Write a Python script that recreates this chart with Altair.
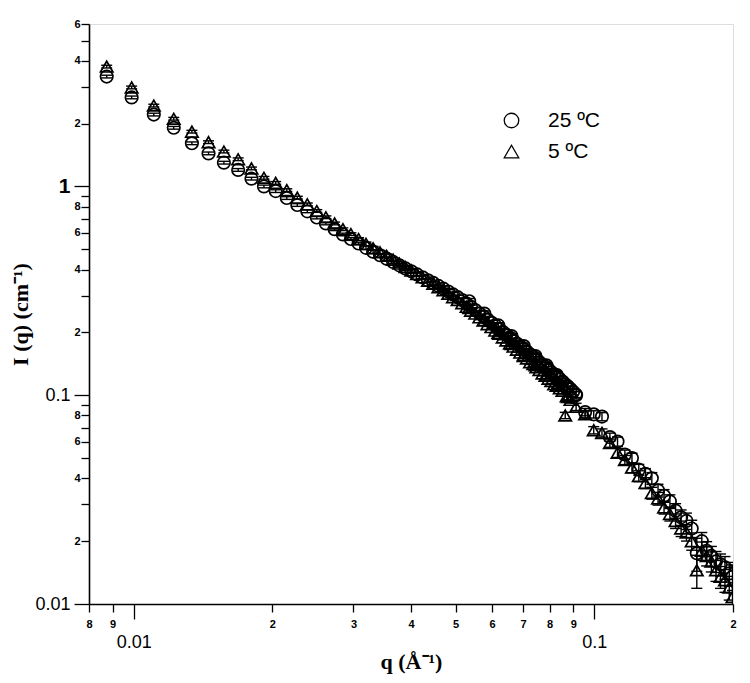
import altair as alt
import pandas as pd

# ---------------- data ----------------
series_names = ["25 ºC", "5 ºC"]

# low-q configuration (q in 1/Å)
q_low = [0.00874, 0.00990, 0.01106, 0.01222, 0.01338, 0.01454, 0.01570, 0.01686, 0.01802, 0.01918,
         0.02034, 0.02150, 0.02266, 0.02382, 0.02498, 0.02614, 0.02730, 0.02846, 0.02962, 0.03078,
         0.03194, 0.03310, 0.03426, 0.03542, 0.03658, 0.03774, 0.03890, 0.04006, 0.04122, 0.04238,
         0.04354, 0.04470, 0.04586, 0.04702, 0.04818, 0.04934, 0.05050, 0.05166, 0.05282, 0.05398,
         0.05514, 0.05630, 0.05746, 0.05862, 0.05978, 0.06094, 0.06210, 0.06326, 0.06442, 0.06558,
         0.06674, 0.06790, 0.06906, 0.07022, 0.07138, 0.07254, 0.07370, 0.07486, 0.07602, 0.07718,
         0.07834, 0.07950, 0.08066, 0.08182, 0.08298, 0.08414, 0.08530, 0.08646, 0.08762, 0.08878,
         0.08994, 0.09110]

i25_low = [3.36, 2.67, 2.21, 1.91, 1.61, 1.44, 1.30, 1.20, 1.09, 1.00,
           0.95, 0.88, 0.815, 0.76, 0.71, 0.665, 0.624, 0.589, 0.56, 0.533,
           0.508, 0.487, 0.468, 0.451, 0.435, 0.419, 0.405, 0.392, 0.379, 0.367,
           0.355, 0.345, 0.334, 0.324, 0.314, 0.304, 0.295, 0.286, 0.275, 0.265,
           0.256, 0.247, 0.239, 0.231, 0.223, 0.216, 0.208, 0.2015, 0.195, 0.189,
           0.183, 0.177, 0.172, 0.167, 0.162, 0.157, 0.153, 0.1485, 0.144, 0.140,
           0.1366, 0.133, 0.129, 0.126, 0.123, 0.1196, 0.1164, 0.113, 0.110, 0.107,
           0.104, 0.101]

i5_low = [3.75, 2.98, 2.44, 2.11, 1.83, 1.63, 1.47, 1.35, 1.22, 1.10,
          1.04, 0.96, 0.884, 0.821, 0.763, 0.712, 0.665, 0.624, 0.591, 0.560,
          0.531, 0.506, 0.484, 0.465, 0.446, 0.427, 0.411, 0.396, 0.381, 0.367,
          0.353, 0.342, 0.329, 0.318, 0.306, 0.295, 0.286, 0.276, 0.265, 0.254,
          0.246, 0.236, 0.228, 0.219, 0.212, 0.204, 0.197, 0.189, 0.183, 0.177,
          0.171, 0.165, 0.160, 0.154, 0.150, 0.144, 0.141, 0.136, 0.132, 0.127,
          0.124, 0.120, 0.117, 0.113, 0.111, 0.108, 0.105, 0.080, 0.098, 0.095]

err_low = [0.015, 0.015, 0.015, 0.015, 0.015, 0.015, 0.015, 0.015, 0.015, 0.015,
           0.015, 0.015, 0.015, 0.015, 0.015, 0.015, 0.015, 0.015, 0.015, 0.015,
           0.02, 0.02, 0.02, 0.02, 0.02, 0.02, 0.02, 0.02, 0.02, 0.02,
           0.02, 0.02, 0.02, 0.02, 0.02, 0.02, 0.02, 0.02, 0.02, 0.02,
           0.025, 0.025, 0.025, 0.025, 0.025, 0.025, 0.025, 0.025, 0.025, 0.025,
           0.025, 0.025, 0.025, 0.025, 0.025, 0.025, 0.025, 0.025, 0.025, 0.025,
           0.03, 0.03, 0.03, 0.03, 0.03, 0.03, 0.035, 0.035, 0.035, 0.035,
           0.035, 0.035]

# high-q configuration
q_high = [0.0535, 0.0577, 0.0619, 0.0661, 0.0703, 0.0745, 0.0787, 0.0829, 0.0871, 0.0913,
          0.0955, 0.0997, 0.1039, 0.1081, 0.1123, 0.1165, 0.1207, 0.1249, 0.1291, 0.1333,
          0.1375, 0.1417, 0.1459, 0.1501, 0.1543, 0.1585, 0.1627, 0.1669, 0.1711, 0.1753,
          0.1795, 0.1837, 0.1879, 0.1921, 0.1963, 0.1995]

i25_high = [0.282, 0.246, 0.216, 0.192, 0.172, 0.154, 0.139, 0.125, 0.111, 0.100,
            0.083, 0.081, 0.079, 0.063, 0.060, 0.052, 0.050, 0.044, 0.042, 0.040,
            0.035, 0.033, 0.031, 0.028, 0.026, 0.025, 0.023, 0.0175, 0.020, 0.018,
            0.017, 0.016, 0.0155, 0.015, 0.014, 0.0135]

i5_high = [0.262, 0.229, 0.199, 0.176, 0.156, 0.139, 0.124, 0.111, 0.099, 0.088,
           0.081, 0.068, 0.066, 0.059, 0.053, 0.049, 0.045, 0.041, 0.038, 0.034,
           0.032, 0.029, 0.027, 0.025, 0.023, 0.022, 0.020, 0.0145, 0.018, 0.017,
           0.016, 0.0145, 0.0135, 0.013, 0.012, 0.0108]

err_high = [0.03, 0.03, 0.03, 0.03, 0.035, 0.035, 0.035, 0.035, 0.04, 0.04,
            0.04, 0.04, 0.045, 0.045, 0.05, 0.05, 0.055, 0.06, 0.06, 0.065,
            0.07, 0.07, 0.075, 0.08, 0.085, 0.09, 0.095, 0.18, 0.10, 0.105,
            0.11, 0.115, 0.12, 0.125, 0.13, 0.14]

x_ticks = [0.008, 0.009, 0.01, 0.02, 0.03, 0.04, 0.05, 0.06, 0.07, 0.08, 0.09, 0.1, 0.2]
y_ticks = [0.01, 0.02, 0.03, 0.04, 0.05, 0.06, 0.07, 0.08, 0.09,
           0.1, 0.2, 0.3, 0.4, 0.5, 0.6, 0.7, 0.8, 0.9,
           1, 2, 3, 4, 5, 6]

# ---------------- table ----------------
rows = []
def add(qs, vals, errs, name):
    for q, v, e in zip(qs, vals, errs):
        rows.append({"q": q, "I": v, "lo": v * (1 - e), "hi": v * (1 + e), "T": name})

add(q_low, i25_low, err_low, series_names[0])
add(q_high, i25_high, err_high, series_names[0])
add(q_low[:len(i5_low)], i5_low, err_low, series_names[1])
add(q_high, i5_high, err_high, series_names[1])
df = pd.DataFrame(rows)

# ---------------- axes ----------------
dec = "abs(log(datum.value)/LN10 - round(log(datum.value)/LN10)) < 0.001"
one = "abs(datum.value - 1) < 0.001"
mant = "round(datum.value / pow(10, floor(log(datum.value)/LN10 + 0.000001)))"

def cond(a, b):
    return {"condition": {"test": dec, "value": a}, "value": b}

x_axis = alt.Axis(
    values=x_ticks, title="q (Å⁻¹)",
    labelExpr=f"({dec}) ? toString(datum.value) : toString({mant})",
    labelFont="Liberation Sans", labelColor="black",
    labelFontSize=cond(18, 11), labelFontWeight=cond("normal", "bold"),
    tickSize=cond(15, 8), labelPadding=cond(14, 6),
    tickColor="black", tickWidth=1.3, domainColor="black", domainWidth=1.6,
    grid=False, labelFlush=False, labelOverlap=False,
    titleFont="Liberation Serif", titleFontSize=22, titleFontWeight="bold",
    titleColor="black", titlePadding=0,
)
y_axis = alt.Axis(
    values=y_ticks, title="I (q) (cm⁻¹)",
    labelExpr=f"({dec}) ? toString(datum.value) : ({mant} % 2 == 0 ? toString({mant}) : '')",
    labelFont="Liberation Sans", labelColor="black",
    labelFontSize={"condition": [{"test": one, "value": 21}, {"test": dec, "value": 18}], "value": 11},
    labelFontWeight={"condition": [{"test": one, "value": "bold"}, {"test": dec, "value": "normal"}], "value": "bold"},
    tickSize=cond(15, 8), labelPadding=cond(4, 1),
    tickColor="black", tickWidth=1.3, domainColor="black", domainWidth=1.6,
    grid=False, labelFlush=False, labelOverlap=False,
    titleFont="Liberation Serif", titleFontSize=22, titleFontWeight="bold",
    titleColor="black", titlePadding=2,
)

x_scale = alt.Scale(type="log", domain=[0.008, 0.2], nice=False)
y_scale = alt.Scale(type="log", domain=[0.01, 6], nice=False)

base = alt.Chart(df)

points = base.mark_point(filled=False, size=155, strokeWidth=1.7, color="black",
                         opacity=1, clip=True).encode(
    x=alt.X("q:Q", scale=x_scale, axis=x_axis),
    y=alt.Y("I:Q", scale=y_scale, axis=y_axis),
    shape=alt.Shape("T:N",
                    scale=alt.Scale(domain=series_names, range=["circle", "triangle-up"]),
                    legend=alt.Legend(title=None, orient="none", legendX=412, legendY=86,
                                      symbolSize=210, symbolStrokeWidth=1.3,
                                      symbolStrokeColor="black", symbolFillColor="white",
                                      labelFont="Liberation Sans", labelFontSize=21,
                                      labelColor="black", labelOffset=26, rowPadding=9)),
)

bars = base.mark_rule(color="black", strokeWidth=1.4, clip=True).encode(
    x=alt.X("q:Q", scale=x_scale), y=alt.Y("lo:Q", scale=y_scale), y2="hi:Q")
cap_lo = base.mark_tick(orient="horizontal", size=11, thickness=1.4, color="black",
                        opacity=1, clip=True).encode(
    x=alt.X("q:Q", scale=x_scale), y=alt.Y("lo:Q", scale=y_scale))
cap_hi = base.mark_tick(orient="horizontal", size=11, thickness=1.4, color="black",
                        opacity=1, clip=True).encode(
    x=alt.X("q:Q", scale=x_scale), y=alt.Y("hi:Q", scale=y_scale))

chart = alt.layer(bars, cap_lo, cap_hi, points).properties(
    width=644, height=580,
    padding={"left": 81, "top": 16, "right": 8, "bottom": 70},
    autosize=alt.AutoSizeParams(type="none"),
).configure_view(stroke="black", strokeWidth=1.6).configure(background="white")

chart.save("out.html", embed_options={"renderer": "svg", "actions": False})
